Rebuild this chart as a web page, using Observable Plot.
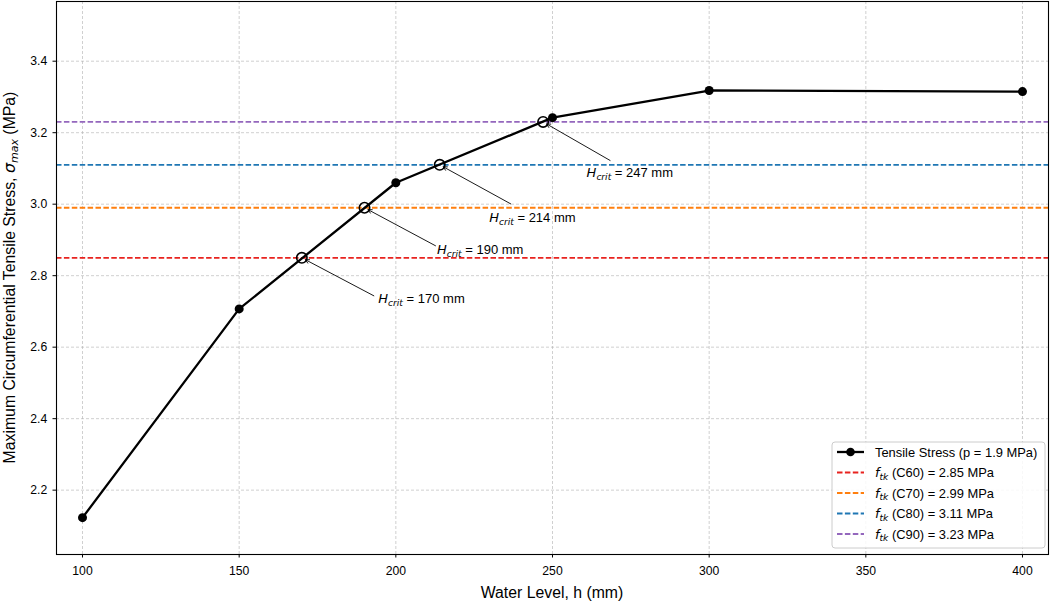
<!DOCTYPE html>
<html>
<head>
<meta charset="utf-8">
<script src="https://cdn.jsdelivr.net/npm/d3@7"></script>
<script src="https://cdn.jsdelivr.net/npm/@observablehq/plot@0.6"></script>
<style>
  html, body { margin: 0; padding: 0; background: #fff; }
  #chart { width: 1052px; height: 604px; }
</style>
</head>
<body>
<div id="chart"></div>
<script>
// ---- Data ----
const waterLevels = [100, 150, 200, 250, 300, 400];
const sigmaMax = [2.123, 2.707, 3.06, 3.242, 3.318, 3.315];
const grades = ["C60", "C70", "C80", "C90"];
const ftkValues = [2.85, 2.99, 3.11, 3.23];
const hCrit = [170, 190, 214, 247];
const gradeColors = ["#e8231f", "#ff7f0e", "#1f77b4", "#9467bd"];
const xTicks = [100, 150, 200, 250, 300, 350, 400];
const yTicks = [2.2, 2.4, 2.6, 2.8, 3.0, 3.2, 3.4];
const seriesLabel = "Tensile Stress (p = 1.9 MPa)";

// annotation layout (pixel offsets from the marked point)
const annTextDx = [77, 73, 50, 44];
const annTextDy = [46, 47, 58, 55.5];
const annArrowDx = [72, 71, 71, 67];
const annArrowDy = [38, 38, 39, 38.5];

// ---- Tables ----
const stress = waterLevels.map((h, i) => ({h, s: sigmaMax[i]}));
const limits = grades.map((g, i) => ({grade: g, ftk: ftkValues[i], color: gradeColors[i], h: hCrit[i]}));

const W = 1052, H = 604;
const mL = 56, mR = 4, mT = 1, mB = 50;
const xDomain = [91.7, 408.3];
const yDomain = [2.02, 3.567];

const xs = Plot.scale({x: {domain: xDomain, range: [mL, W - mR]}});
const ys = Plot.scale({y: {domain: yDomain, range: [H - mB, mT]}});

const arrows = limits.map((d, i) => ({
  x1: xs.invert(xs.apply(d.h) + annArrowDx[i]),
  y1: ys.invert(ys.apply(d.ftk) + annArrowDy[i]),
  x2: d.h, y2: d.ftk
}));

const gridStyle = {stroke: "#b0b0b0", strokeOpacity: 0.75, strokeWidth: 0.8, strokeDasharray: "3,2"};

const plot = Plot.plot({
  width: W, height: H,
  marginLeft: mL, marginRight: mR, marginTop: mT, marginBottom: mB,
  style: {fontFamily: "'Liberation Sans', Arial, sans-serif", fontSize: "12.2px", color: "#000", background: "#fff", overflow: "visible"},
  x: {domain: xDomain},
  y: {domain: yDomain},
  color: {type: "identity"},
  marks: [
    Plot.gridX(xTicks, gridStyle),
    Plot.gridY(yTicks, gridStyle),
    Plot.ruleY(limits, {y: "ftk", stroke: "color", strokeWidth: 1.8, strokeDasharray: "5.5,2.4"}),
    Plot.line(stress, {x: "h", y: "s", stroke: "black", strokeWidth: 2.3}),
    Plot.dot(stress, {x: "h", y: "s", fill: "black", r: 4.5}),
    Plot.dot(limits, {x: "h", y: "ftk", r: 5.2, stroke: "black", strokeWidth: 1.6, fill: "none"}),
    Plot.arrow(arrows, {x1: "x1", y1: "y1", x2: "x2", y2: "y2", stroke: "black", strokeWidth: 0.9, headLength: 7, headAngle: 55, insetEnd: 4, bend: false}),
    Plot.frame({stroke: "black", strokeWidth: 1.1}),
    Plot.axisX(xTicks, {tickSize: 3.5, tickPadding: 8.5, label: null, fontSize: 12.2, stroke: "black"}),
    Plot.axisY(yTicks, {tickSize: 3.5, tickPadding: 5.8, label: null, fontSize: 12.2, tickFormat: d => d.toFixed(1), stroke: "black"})
  ]
});

document.getElementById("chart").appendChild(plot);

const svg = d3.select(plot);
const MATH = "'DejaVu Sans', sans-serif";

// builds text with italic math parts and subscripts
function richText(sel, parts, size) {
  parts.forEach(p => {
    const t = sel.append("tspan").text(p.t);
    if (p.math) t.attr("font-family", MATH).attr("font-style", "italic");
    if (p.sub) {
      t.attr("font-size", size * 0.7).attr("dy", size * 0.22);
    } else if (p.after) {
      t.attr("dy", -size * 0.22);
    }
  });
}

// y label
const yl = svg.append("text")
  .attr("transform", `translate(15,${(mT + H - mB) / 2}) rotate(-90)`)
  .attr("text-anchor", "middle")
  .attr("font-size", 15.8)
  .attr("fill", "black");
richText(yl, [
  {t: "Maximum Circumferential Tensile Stress, "},
  {t: "σ", math: true},
  {t: "max", math: true, sub: true},
  {t: " (MPa)", after: true}
], 15.8);

// x label
svg.append("text")
  .attr("x", (mL + W - mR) / 2)
  .attr("y", 598)
  .attr("text-anchor", "middle")
  .attr("font-size", 15.8)
  .attr("fill", "black")
  .text("Water Level, h (mm)");

// annotations
limits.forEach((d, i) => {
  const t = svg.append("text")
    .attr("x", xs.apply(d.h) + annTextDx[i])
    .attr("y", ys.apply(d.ftk) + annTextDy[i])
    .attr("text-anchor", "start")
    .attr("font-size", 13)
    .attr("fill", "black");
  richText(t, [
    {t: "H", math: true},
    {t: "crit", math: true, sub: true},
    {t: ` = ${d.h} mm`, after: true}
  ], 13);
});

// legend
const lg = svg.append("g").attr("transform", "translate(832,442)").attr("text-anchor", "start");
lg.append("rect")
  .attr("width", 213).attr("height", 106).attr("rx", 3)
  .attr("fill", "white").attr("fill-opacity", 0.85)
  .attr("stroke", "#cccccc").attr("stroke-width", 1);
const rowY = [10, 30.5, 51, 71.5, 92];
lg.append("line").attr("x1", 5).attr("x2", 32).attr("y1", rowY[0]).attr("y2", rowY[0])
  .attr("stroke", "black").attr("stroke-width", 2.3);
lg.append("circle").attr("cx", 18.5).attr("cy", rowY[0]).attr("r", 4.3).attr("fill", "black");
lg.append("text").attr("x", 43).attr("y", rowY[0]).attr("dy", "0.36em")
  .attr("font-size", 12.9).attr("fill", "black").text(seriesLabel);
limits.forEach((d, i) => {
  const y = rowY[i + 1];
  lg.append("line").attr("x1", 5).attr("x2", 32).attr("y1", y).attr("y2", y)
    .attr("stroke", d.color).attr("stroke-width", 1.8).attr("stroke-dasharray", "5.5,2.4");
  const t = lg.append("text").attr("x", 43).attr("y", y).attr("dy", "0.36em")
    .attr("font-size", 12.9).attr("fill", "black");
  richText(t, [
    {t: "f", math: true},
    {t: "tk", math: true, sub: true},
    {t: ` (${d.grade}) = ${d.ftk.toFixed(2)} MPa`, after: true}
  ], 12.9);
});
</script>
</body>
</html>
